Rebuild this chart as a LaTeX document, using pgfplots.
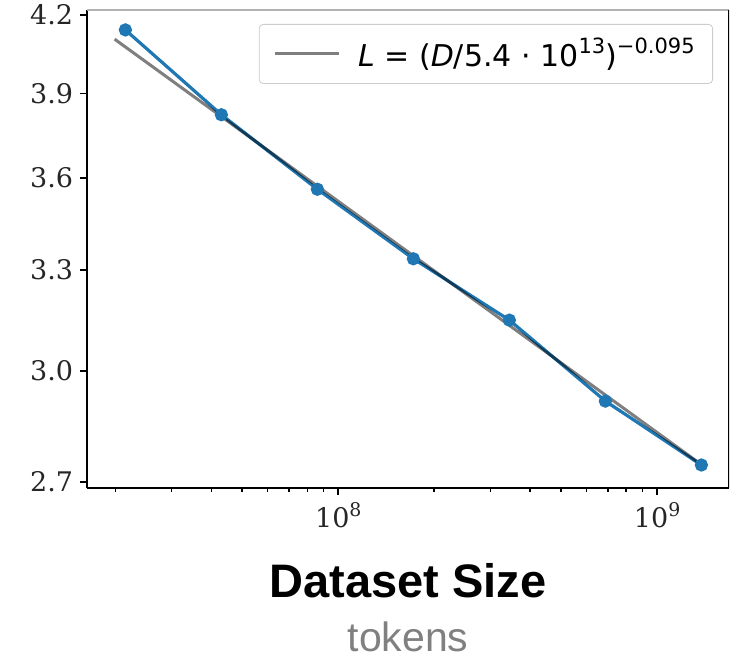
\documentclass[border=0pt]{standalone}
\usepackage{fontspec}
\usepackage{graphicx}
\usepackage{pgfplots}
\pgfplotsset{compat=1.18}
\setmainfont{DejaVu Serif}
\newfontfamily\legfont{DejaVu Sans}
\newfontfamily\labfont{Liberation Sans}
\definecolor{mplBlue}{HTML}{1F77B4}
\newcommand\tsup[1]{\raisebox{0.42em}{\scalebox{0.7}{#1}}}

\begin{document}
\begin{tikzpicture}
\path[use as bounding box] (-43.5bp,-84.5bp) rectangle (321.5bp,244bp);
\begin{axis}[
  scale only axis, width=321bp, height=239bp,
  xmode=log, ymode=log,
  xmin=1.63e7, xmax=1.68e9, ymin=2.685, ymax=4.22,
  axis x line*=bottom, axis y line*=left,
  axis line style={black, line width=1bp},
  tick align=outside,
  major tick length=3.5bp, minor tick length=2bp,
  every tick/.style={black, line width=0.8bp},
  xtick={1e8,1e9}, xticklabels={10\tsup{8},10\tsup{9}},
  minor xtick={2e7,3e7,4e7,5e7,6e7,7e7,8e7,9e7,2e8,3e8,4e8,5e8,6e8,7e8,8e8,9e8},
  ytick={2.7,3.0,3.3,3.6,3.9,4.2}, yticklabels={2.7,3.0,3.3,3.6,3.9,4.2},
  minor ytick={},
  tick label style={font=\fontsize{13.5bp}{16bp}\selectfont, text=black!85},
  legend style={at={(1,1)}, anchor=north east, xshift=-8bp, yshift=-7bp,
    draw=black!20, rounded corners=2bp, fill=white,
    font=\legfont\fontsize{15bp}{18bp}\selectfont,
    inner xsep=7bp, inner ysep=5bp, column sep=7bp, cells={anchor=west}},
  legend image code/.code={\draw[#1] (0bp,0bp) -- (32bp,0bp);},
]
\addplot[mplBlue, line width=1.6bp, mark=*, mark size=2.5bp,
  mark options={fill=mplBlue, draw=mplBlue}, forget plot] coordinates {
  (2.15e7,4.141) (4.3e7,3.822) (8.6e7,3.562) (1.72e8,3.335)
  (3.44e8,3.147) (6.88e8,2.915) (1.376e9,2.744)};
\addplot[black, opacity=0.5, line width=1.5bp] coordinates {
  (1.99e7,4.105) (1.376e9,2.745)};
\addlegendentry{\textit{L} = (\textit{D}/5.4 · 10\tsup{13})\tsup{−0.095}}
\draw[black!30, line width=1bp] (rel axis cs:0,1) -- (rel axis cs:1,1);
\draw[black, line width=1bp] (rel axis cs:1,0) -- (rel axis cs:1,1);
\end{axis}
\node[anchor=base, font=\labfont\bfseries\fontsize{23.5bp}{28bp}\selectfont] at (160.5bp,-54.5bp) {Dataset Size};
\node[anchor=base, text=black!50, font=\labfont\fontsize{20.5bp}{24bp}\selectfont] at (160.5bp,-81.5bp) {tokens};
\end{tikzpicture}
\end{document}
